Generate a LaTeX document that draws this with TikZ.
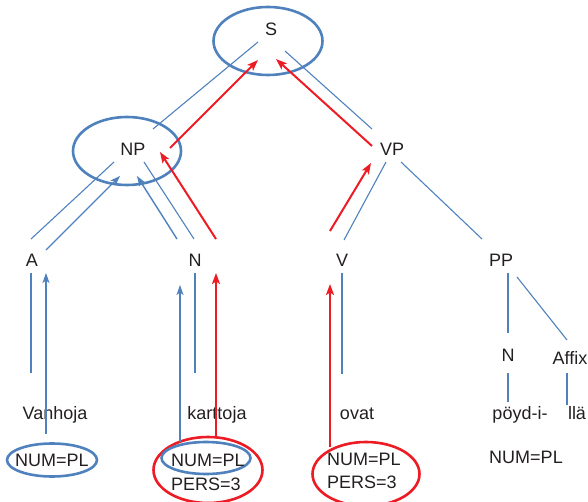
\documentclass[tikz,border=0pt]{standalone}
\usepackage{fontspec}
\setmainfont{Liberation Sans}
\definecolor{treeblue}{HTML}{4F81BD}
\definecolor{agreered}{HTML}{ED1C24}
\definecolor{inkgrey}{HTML}{231F20}
\usetikzlibrary{shapes.geometric,arrows.meta}

\begin{document}
\begin{tikzpicture}[x=1pt, y=-1pt, text=inkgrey, font=\fontsize{18}{21}\selectfont,
  lbl/.style={anchor=base, inner sep=0pt},
  bluering/.style={ellipse, draw=treeblue, line width=2.6pt, inner sep=0pt},
  redring/.style={ellipse, draw=agreered, line width=2.6pt, inner sep=0pt},
  treeline/.style={draw=treeblue, line width=1.1pt},
  bluearrow/.style={draw=treeblue, line width=1.4pt, -{Stealth[length=10pt,width=7pt,inset=2.5pt]}},
  redarrow/.style={draw=agreered, line width=2pt, -{Stealth[length=11pt,width=8pt,inset=2.5pt]}}]
\useasboundingbox (0,0) rectangle (588,502);

% Rings
\node[bluering, minimum width=109pt, minimum height=68pt] (sring) at (268,41) {};
\node[bluering, minimum width=108pt, minimum height=68pt] (npring) at (127,151) {};
\node[bluering, minimum width=90pt, minimum height=33pt] (aring) at (52,460) {};
\node[redring, minimum width=109pt, minimum height=66pt] (kring) at (208,470) {};
\node[bluering, minimum width=89pt, minimum height=32pt] (kblue) at (206,458) {};
\node[redring, minimum width=107pt, minimum height=64pt] (ovring) at (366,474) {};

% Labels
\node[lbl] (s) at (271,36) {S};
\node[lbl] (np) at (133,156) {NP};
\node[lbl] (vp) at (392,156) {VP};
\node[lbl] (a) at (32,267) {A};
\node[lbl] (n) at (195,267) {N};
\node[lbl] (v) at (342,267) {V};
\node[lbl] (pp) at (501,267) {PP};
\node[lbl] (n2) at (508,361) {N};
\node[lbl] (affix) at (570,364) {Affix};

\node[lbl] (vanhoja) at (55,419) {Vanhoja};
\node[lbl] (karttoja) at (217,419) {karttoja};
\node[lbl] (ovat) at (357,419) {ovat};
\node[lbl] (poydi) at (520,419) {pöyd-i-};
\node[lbl] (lla) at (577,419) {llä};

\node[lbl] (anum) at (52,466) {NUM=PL};
\node[lbl, anchor=base west] (knum) at (171,466) {NUM=PL};
\node[lbl, anchor=base west] (kpers) at (171,490) {PERS=3};
\node[lbl, anchor=base west] (onum) at (327,465) {NUM=PL};
\node[lbl, anchor=base west] (opers) at (327,488) {PERS=3};
\node[lbl] (pnum) at (526,463) {NUM=PL};

% Tree branches
\draw[treeline] ([shift={(-13,6)}]s.base) -- ([shift={(20,-27)}]np.base);
\draw[treeline] ([shift={(14,15)}]s.base) -- ([shift={(-20,-27)}]vp.base);
\draw[treeline] ([shift={(-19,6)}]np.base) -- ([shift={(-1,-28)}]a.base);
\draw[treeline] ([shift={(11,6)}]np.base) -- ([shift={(-1,-28)}]n.base);
\draw[treeline] ([shift={(-6,6)}]vp.base) -- ([shift={(2,-27)}]v.base);
\draw[treeline] ([shift={(9,6)}]vp.base) -- ([shift={(-19,-28)}]pp.base);

\draw[treeline] ([shift={(-1,6)}]a.base) -- ([shift={(-24,-46)}]vanhoja.base);
\draw[treeline] ([shift={(0,6)}]n.base) -- ([shift={(-22,-46)}]karttoja.base);
\draw[treeline] ([shift={(0,6)}]v.base) -- ([shift={(-15,-45)}]ovat.base);
\draw[treeline] ([shift={(7,6)}]pp.base) -- ([shift={(0,-28)}]n2.base);
\draw[treeline] ([shift={(16,10)}]pp.base) -- ([shift={(-3,-24)}]affix.base);
\draw[treeline] ([shift={(0,12)}]n2.base) -- ([shift={(-12,-17)}]poydi.base);
\draw[treeline] ([shift={(-3,9)}]affix.base) -- ([shift={(-10,-14)}]lla.base);

% Blue feature arrows
\draw[bluearrow] ([shift={(-6,-8.5)}]aring.north) -- ([shift={(14,6)}]a.base);
\draw[bluearrow] ([shift={(14,-17)}]a.base) -- ([shift={(-13,20)}]np.base);
\draw[bluearrow] ([shift={(-26,1)}]kblue.north) -- ([shift={(-15,18)}]n.base);
\draw[bluearrow] ([shift={(-18,-28)}]n.base) -- ([shift={(4,20)}]np.base);

% Red agreement arrows
\draw[redarrow] ([shift={(8,0)}]kring.north) -- ([shift={(21,6)}]n.base);
\draw[redarrow] ([shift={(21,-28)}]n.base) -- ([shift={(27,-4)}]np.base);
\draw[redarrow] ([shift={(37,-8)}]np.base) -- ([shift={(-13,24)}]s.base);
\draw[redarrow] ([shift={(-20,-10)}]vp.base) -- ([shift={(5,23)}]s.base);
\draw[redarrow] ([shift={(-12,-36)}]v.base) -- ([shift={(-21,7)}]vp.base);
\draw[redarrow] ([shift={(-36,6)}]ovring.north) -- ([shift={(-12,17)}]v.base);
\end{tikzpicture}
\end{document}
